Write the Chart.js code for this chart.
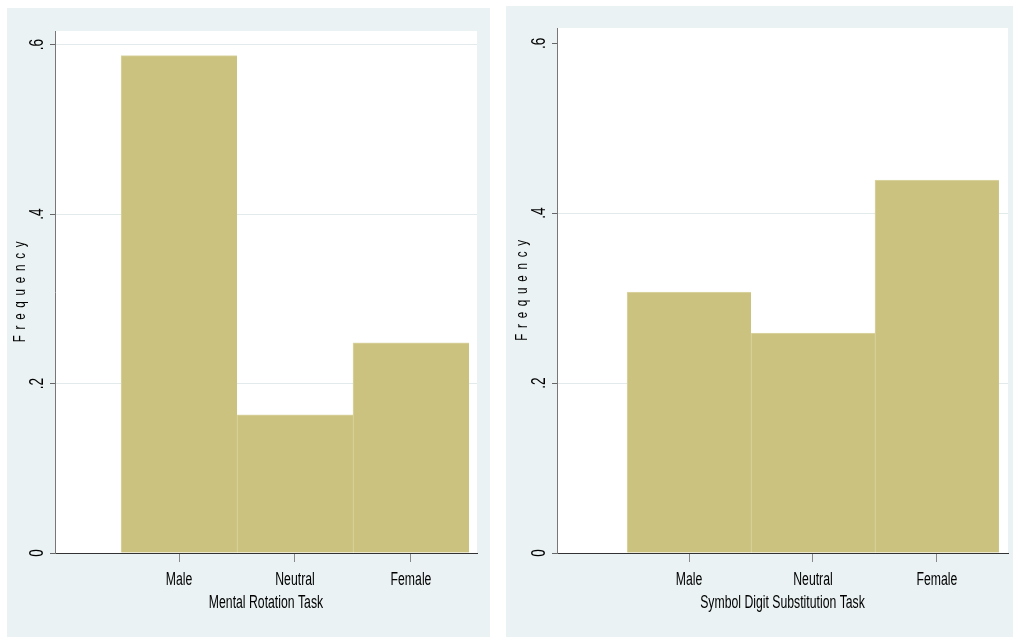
<!DOCTYPE html>
<html>
<head>
<meta charset="utf-8">
<script src="https://cdn.jsdelivr.net/npm/chart.js@4"></script>
<style>
  body { margin: 0; background: #fff; }
  .panel { position: absolute; background: #eaf2f3; }
  #left { left: 7px; top: 8px; width: 483px; height: 629px; }
  #right { left: 506px; top: 6px; width: 507px; height: 631px; }
</style>
</head>
<body>
<div class="panel" id="left"><canvas id="mentalChart"></canvas></div>
<div class="panel" id="right"><canvas id="symbolChart"></canvas></div>
<script>
const categories = ['Male', 'Neutral', 'Female'];
const mentalRotation = [0.587, 0.163, 0.248];
const symbolDigit = [0.307, 0.259, 0.439];
const yTicks = [0, 0.2, 0.4, 0.6];
const yTickLabels = ['0', '.2', '.4', '.6'];

const FONT = "'Liberation Sans', Arial, sans-serif";
const SQUEEZE = 0.68; // Stata export uses a tall, narrow face

// draw every label horizontally condensed
const narrowText = {
    id: 'narrowText',
    beforeInit(chart) {
        const ctx = chart.ctx;
        const fill = ctx.fillText.bind(ctx);
        ctx.fillText = function (text, x, y) {
            ctx.save();
            ctx.translate(x, y);
            ctx.scale(SQUEEZE, 1);
            fill(text, 0, 0);
            ctx.restore();
        };
    }
};

// white plot region on the blue-grey panel
const plotBackground = {
    id: 'plotBackground',
    beforeDraw(chart) {
        const a = chart.chartArea;
        chart.ctx.save();
        chart.ctx.fillStyle = '#ffffff';
        chart.ctx.fillRect(a.left, a.top, a.right - a.left, a.bottom - a.top);
        chart.ctx.restore();
    }
};

// letter-spaced y title
const yTitle = {
    id: 'yTitle',
    afterDraw(chart) {
        const a = chart.chartArea;
        const ctx = chart.ctx;
        ctx.save();
        ctx.translate(a.left - 35, (a.top + a.bottom) / 2);
        ctx.rotate(-Math.PI / 2);
        ctx.font = '17px ' + FONT;
        ctx.letterSpacing = '8.5px';
        ctx.fillStyle = '#000';
        ctx.textAlign = 'center';
        ctx.textBaseline = 'middle';
        ctx.fillText('Frequency', 3, 0);
        ctx.restore();
    }
};

function makeChart(id, xTitle, values, o) {
    return new Chart(document.getElementById(id).getContext('2d'), {
        type: 'bar',
        data: {
            datasets: [{
                data: categories.map((c, i) => ({ x: i + 1, y: values[i] })),
                backgroundColor: '#cbc27f',
                borderColor: '#dcd6a6',
                borderWidth: { top: 1, left: 1, right: 0, bottom: 0 },
                borderSkipped: false,
                barPercentage: 1,
                categoryPercentage: 1
            }]
        },
        options: {
            responsive: true,
            maintainAspectRatio: false,
            animation: false,
            layout: { padding: { top: o.top, right: o.right, bottom: 22, left: 0 } },
            plugins: { legend: { display: false }, tooltip: { enabled: false } },
            scales: {
                x: {
                    type: 'linear',
                    offset: false,
                    min: o.xMin,
                    max: o.xMax,
                    afterBuildTicks: s => { s.ticks = categories.map((c, i) => ({ value: i + 1 })); },
                    afterFit: s => { s.height = 62; },
                    grid: { offset: false, drawOnChartArea: false, tickLength: 9, tickColor: '#888' },
                    border: { color: '#333', width: 1 },
                    ticks: {
                        padding: 7,
                        color: '#000',
                        font: { family: FONT, size: 18 },
                        callback: v => categories[v - 1]
                    },
                    title: {
                        display: true,
                        text: xTitle,
                        color: '#000',
                        font: { family: FONT, size: 18 },
                        padding: { top: 0, bottom: 1 }
                    }
                },
                y: {
                    min: 0,
                    max: o.yMax,
                    afterBuildTicks: s => { s.ticks = yTicks.map(v => ({ value: v })); },
                    afterFit: s => { s.width = o.yWidth; },
                    grid: {
                        color: c => (c.tick.value === 0 || o.hideGrid.includes(c.tick.value)) ? 'rgba(0,0,0,0)' : '#e2eaec',
                        tickColor: '#666',
                        tickLength: 5
                    },
                    border: { color: '#777', width: 1 },
                    ticks: {
                        minRotation: 90,
                        maxRotation: 90,
                        crossAlign: 'center',
                        padding: 4,
                        color: '#000',
                        font: { family: FONT, size: 20 },
                        callback: v => yTickLabels[yTicks.indexOf(v)]
                    }
                }
            }
        },
        plugins: [narrowText, plotBackground, yTitle]
    });
}

makeChart('mentalChart', 'Mental Rotation Task', mentalRotation,
    { top: 23, right: 13, yWidth: 48, xMin: -0.069, xMax: 3.569, yMax: 0.616, hideGrid: [] });
makeChart('symbolChart', 'Symbol Digit Substitution Task', symbolDigit,
    { top: 22, right: 5, yWidth: 51, xMin: -0.065, xMax: 3.573, yMax: 0.618, hideGrid: [0.6] });
</script>
</body>
</html>
